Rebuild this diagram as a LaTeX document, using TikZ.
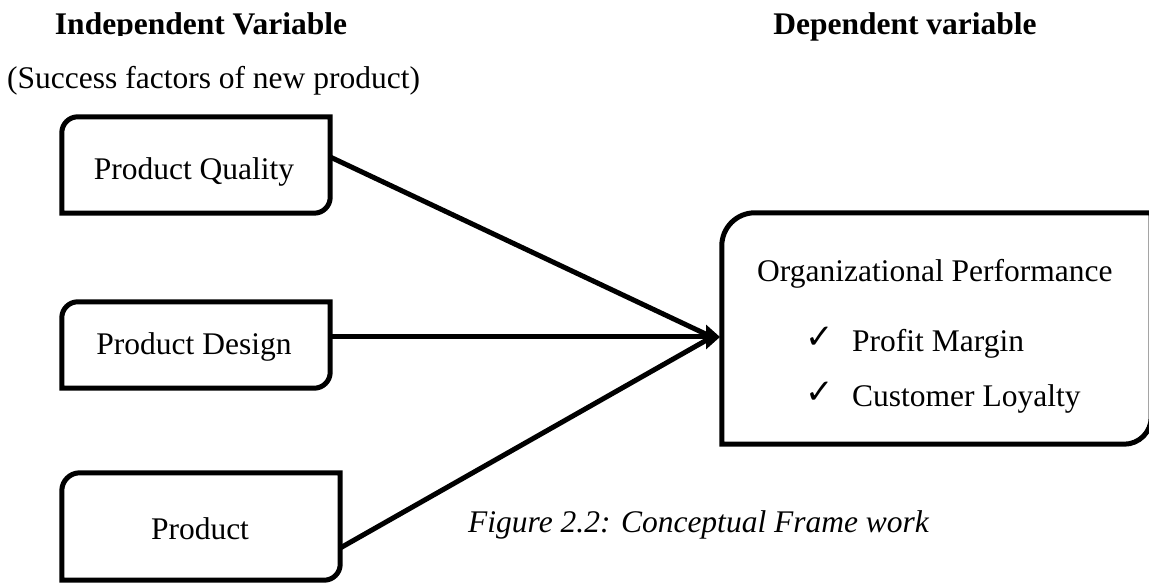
\documentclass[tikz,border=0pt]{standalone}
\usepackage{fontspec}
\setmainfont{Liberation Serif}
\newfontfamily\symfont{DejaVu Sans}
\usetikzlibrary{arrows.meta,calc}
\newcommand\diagoutline[3]{%
  \draw[outline] let \p1=(#1.south west), \p2=(#1.north east) in
    (\x1,\y1) -- ({\x1},{\y2-#2}) arc[start angle=180,end angle=90,radius=#2]
    -- (\x2,\y2) -- ({\x2},{\y1+#3}) arc[start angle=0,end angle=-90,radius=#3] -- cycle;}
\begin{document}
\begin{tikzpicture}[x=1pt,y=1pt,
  boxarea/.style={draw=none,inner sep=0pt,rectangle},
  outline/.style={line width=5pt,line join=miter},
  txt/.style={inner sep=0pt,font=\fontsize{31.5}{36}\selectfont},
  ttl/.style={inner sep=0pt,font=\fontsize{31.5}{36}\selectfont\bfseries},
  ck/.style={inner sep=0pt,font=\symfont\fontsize{34}{38}\selectfont},
  conn/.style={line width=5pt},
  head/.style={-{Triangle[length=14pt,width=24pt]}}]
\useasboundingbox (0,0) rectangle (1149,583);
\fill[white] (0,0) rectangle (1149,583);
% box areas
\node[boxarea,minimum width=268pt,minimum height=96pt] (b1) at (196,418) {};
\node[boxarea,minimum width=268pt,minimum height=86pt] (b2) at (196,238) {};
\node[boxarea,minimum width=278pt,minimum height=107pt] (b3) at (201,56.5) {};
\node[boxarea,minimum width=429pt,minimum height=231pt] (r) at (936.5,254.5) {};
\diagoutline{b1}{16pt}{16pt}
\diagoutline{b2}{16pt}{16pt}
\diagoutline{b3}{18pt}{16pt}
\diagoutline{r}{33pt}{27pt}
% titles
\begin{scope}
  \clip (0,547) rectangle (600,583);
  \node[ttl,anchor=base] (t1) at (201,548) {Independent Variable};
\end{scope}
\node[ttl,anchor=base] (t2) at (905,548) {Dependent variable};
\node[txt,anchor=base west] (sub) at (7,494) {(Success factors of new product)};
% box texts
\node[txt,anchor=base] (pq) at (194,403) {Product Quality};
\node[txt,anchor=base] (pd) at (194,228) {Product Design};
\node[txt,anchor=base] (pp) at (200,43) {Product};
\node[txt,anchor=base west] (op) at (757,301) {Organizational Performance};
\node[ck,anchor=base west] (ck1) at (805,234) {✓};
\node[txt,anchor=base west] (pm) at (852,231) {Profit Margin};
\node[ck,anchor=base west] (ck2) at (805,179) {✓};
\node[txt,anchor=base west] (cl) at (852,176) {Customer Loyalty};
\node[txt,anchor=base west,font=\fontsize{31.5}{36}\selectfont\itshape] (cap) at (468,50) {Figure 2.2: Conceptual Frame work};
% connectors
\coordinate (tip) at (720,246);
\draw[conn] ([yshift=8pt]b1.east) -- ([xshift=-8pt]tip);
\draw[conn] ([yshift=-21.5pt]b3.east) -- ([xshift=-8pt]tip);
\draw[conn,head] ([yshift=8pt]b2.east) -- (tip);
\end{tikzpicture}
\end{document}
